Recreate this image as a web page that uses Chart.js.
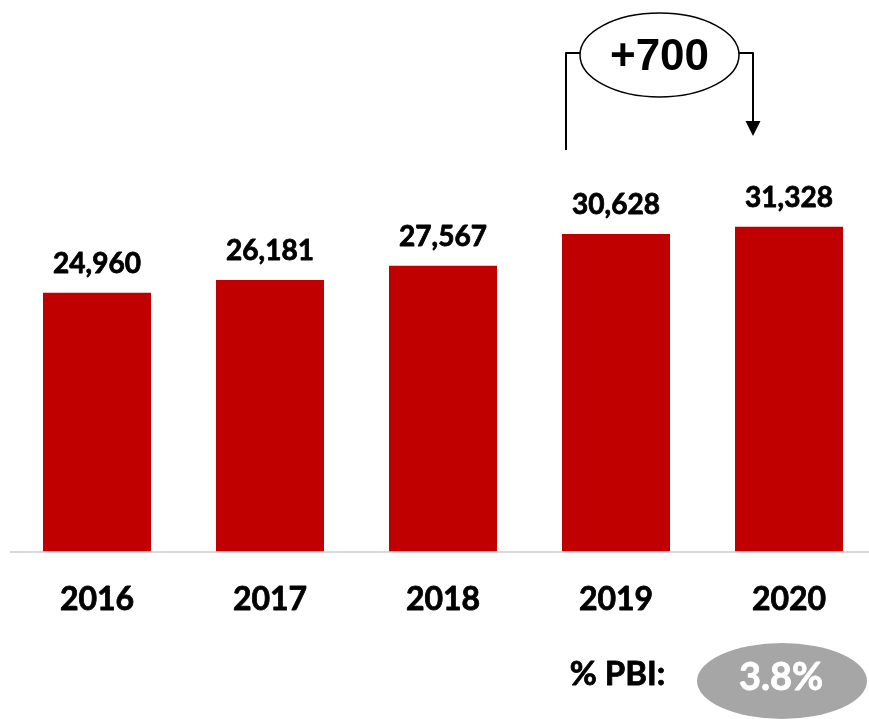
<!DOCTYPE html>
<html><head><meta charset="utf-8">
<script src="https://cdn.jsdelivr.net/npm/chart.js@4"></script>
<style>html,body{margin:0;padding:0;background:#fff;overflow:hidden;}
#wrap{position:relative;width:880px;height:719px;}</style>
</head><body><div id="wrap"><canvas id="c"></canvas></div>
<script>
const years = ['2016', '2017', '2018', '2019', '2020'];
const values = [24960, 26181, 27567, 30628, 31328];
const deltaLabel = '+700';
const pbiLabel = '% PBI:';
const pbiValue = '3.8%';

const FONT = 'Lato, "Open Sans", sans-serif';

function heavyText(ctx, text, x, y, color, sw) {
  ctx.fillStyle = color;
  ctx.strokeStyle = color;
  ctx.lineWidth = sw;
  ctx.lineJoin = 'round';
  ctx.strokeText(text, x, y);
  ctx.fillText(text, x, y);
}

const overlay = {
  id: 'overlay',
  afterDatasetsDraw(chart) {
    const ctx = chart.ctx;
    const meta = chart.getDatasetMeta(0);
    const xs = chart.scales.x;
    ctx.save();
    // value labels
    ctx.font = 'bold 28px ' + FONT;
    ctx.textAlign = 'center';
    ctx.textBaseline = 'alphabetic';
    meta.data.forEach((bar, i) => {
      heavyText(ctx, values[i].toLocaleString('en-US'), bar.x, bar.y - 20, '#000', 0.8);
    });
    // delta bracket
    const x19 = xs.getPixelForValue(3), x20 = xs.getPixelForValue(4);
    const lx = x19 - 50, rx = x20 - 36;
    const cx = (lx + rx) / 2, cy = 55, erx = 79.5, ery = 42;
    const hy = 53;
    ctx.strokeStyle = '#000';
    ctx.lineWidth = 2;
    ctx.beginPath();
    ctx.moveTo(lx, 150); ctx.lineTo(lx, hy); ctx.lineTo(cx - erx, hy);
    ctx.moveTo(cx + erx, hy); ctx.lineTo(rx, hy); ctx.lineTo(rx, 122);
    ctx.stroke();
    ctx.fillStyle = '#000';
    ctx.beginPath();
    ctx.moveTo(rx - 7.5, 121); ctx.lineTo(rx + 7.5, 121); ctx.lineTo(rx, 136); ctx.closePath();
    ctx.fill();
    ctx.lineWidth = 1.5;
    ctx.beginPath();
    ctx.ellipse(cx, cy, erx, ery, 0, 0, Math.PI * 2);
    ctx.fillStyle = '#fff';
    ctx.fill();
    ctx.stroke();
    ctx.fillStyle = '#000';
    ctx.font = 'bold 44px "Liberation Sans", Arial, sans-serif';
    ctx.textBaseline = 'alphabetic';
    ctx.fillText(deltaLabel, cx, 70);
    // PBI
    ctx.font = 'bold 33px ' + FONT;
    heavyText(ctx, pbiLabel, 617.5, 685, '#000', 0.8);
    ctx.fillStyle = '#a6a6a6';
    ctx.beginPath();
    ctx.ellipse(782, 681, 85, 38, 0, 0, Math.PI * 2);
    ctx.fill();
    ctx.font = 'bold 38px ' + FONT;
    heavyText(ctx, pbiValue, 781, 690, '#fff', 0.8);
    ctx.restore();
  }
};

const tickWeight = {
  id: 'tickWeight',
  afterDraw(chart) {
    const ctx = chart.ctx;
    const xs = chart.scales.x;
    ctx.save();
    ctx.font = 'bold 32px ' + FONT;
    ctx.textAlign = 'center';
    ctx.textBaseline = 'middle';
    years.forEach((y, i) => {
      ctx.strokeStyle = '#000';
      ctx.lineWidth = 0.8;
      ctx.lineJoin = 'round';
      ctx.strokeText(y, xs.getPixelForValue(i), xs.top + 29 + 19.2);
    });
    ctx.restore();
  }
};

function build() {
  new Chart(document.getElementById('c'), {
    type: 'bar',
    data: {
      labels: years,
      datasets: [{
        data: values,
        backgroundColor: '#c00000',
        borderWidth: 0,
        barPercentage: 1,
        categoryPercentage: 108 / 173
      }]
    },
    options: {
      responsive: true,
      maintainAspectRatio: false,
      animation: false,
      events: [],
      layout: { padding: { left: 10.5, right: 4.5, top: 33, bottom: 0 } },
      plugins: { legend: { display: false }, tooltip: { enabled: false } },
      scales: {
        x: {
          afterFit: (s) => { s.height = 167.5; },
          grid: { display: false, drawTicks: false },
          border: { display: true, color: '#d9d9d9', width: 2 },
          ticks: { color: '#000', padding: 29, font: { family: FONT, weight: 'bold', size: 32 } }
        },
        y: { display: false, min: 0, max: 50000 }
      }
    },
    plugins: [overlay, tickWeight]
  });
}
Promise.all([
  document.fonts.load('bold 32px Lato'),
  document.fonts.load('bold 44px "Liberation Sans"')
]).then(build, build);
</script>
</body></html>
